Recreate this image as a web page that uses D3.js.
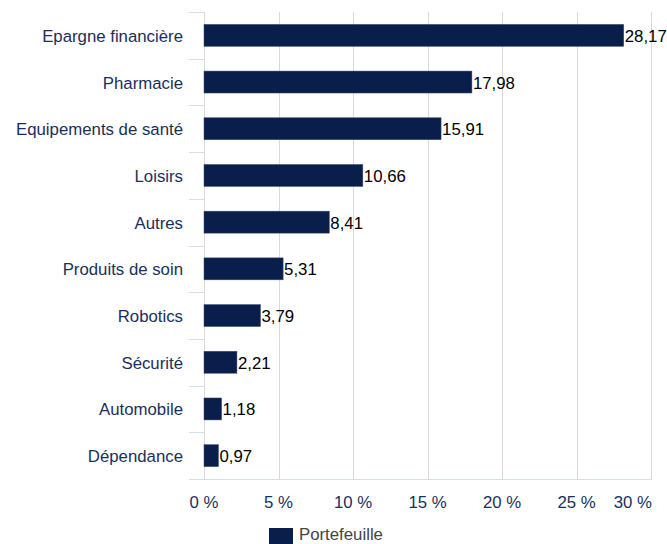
<!DOCTYPE html>
<html><head><meta charset="utf-8">
<script src="https://cdn.jsdelivr.net/npm/d3@7"></script>
<style>body{margin:0;background:#fff}svg{display:block}text{font-family:"Liberation Sans",Arial,sans-serif}</style>
</head><body>
<svg id="c" width="667" height="544"></svg>
<script>
const categories = ["Epargne financière","Pharmacie","Equipements de santé","Loisirs","Autres","Produits de soin","Robotics","Sécurité","Automobile","Dépendance"];
const values = [28.17,17.98,15.91,10.66,8.41,5.31,3.79,2.21,1.18,0.97];
const ticks = [0,5,10,15,20,25,30];
const seriesName = "Portefeuille";

const svg = d3.select("#c");
const m = {l:204, r:16, t:12, b:65};
const W = 667, H = 544;
const FS = 16.8;
const x = d3.scaleLinear().domain([0,30]).range([m.l, W - m.r]);
const y = d3.scaleBand().domain(categories).range([m.t, H - m.b]).paddingInner(0.53).paddingOuter(0.265);
const yb = d3.scaleBand().domain(categories).range([m.t, H - m.b]);

// gridlines
svg.append("g").selectAll("line").data(ticks.slice(1)).join("line")
  .attr("x1", d=>Math.round(x(d))+0.5).attr("x2", d=>Math.round(x(d))+0.5).attr("y1", m.t).attr("y2", H - m.b)
  .attr("stroke", "#d9d9d9").attr("stroke-width", 1);

// left axis line
svg.append("line").attr("x1", m.l+0.5).attr("x2", m.l+0.5).attr("y1", m.t).attr("y2", H-m.b)
  .attr("stroke", "#d9d9d9");
// category tick marks at band boundaries
const bounds = categories.map(c=>yb(c)).concat([H-m.b]);
svg.append("g").selectAll("line").data(bounds).join("line")
  .attr("x1", m.l-15).attr("x2", m.l).attr("y1", d=>Math.round(d)+0.5).attr("y2", d=>Math.round(d)+0.5)
  .attr("stroke", "#d6dde8");
// bottom axis line
svg.append("line").attr("x1", m.l-15).attr("x2", W-m.r+1).attr("y1", H-m.b+0.5).attr("y2", H-m.b+0.5)
  .attr("stroke", "#d6dde8");

// bars
svg.append("g").selectAll("rect").data(values).join("rect")
  .attr("x", x(0)).attr("y", (d,i)=>y(categories[i]))
  .attr("width", d=>x(d)-x(0)).attr("height", y.bandwidth())
  .attr("fill", "#0a1e4b").attr("stroke","#3a4c72").attr("stroke-width",0.5);

// value labels
svg.append("g").selectAll("text").data(values).join("text")
  .attr("x", d=>x(d)+1).attr("y", (d,i)=>y(categories[i]) + y.bandwidth()/2 + 6.5)
  .attr("font-size", FS).attr("fill", "#000")
  .text(d=>d3.format(".2f")(d).replace(".", ","));

// category labels
svg.append("g").selectAll("text").data(categories).join("text")
  .attr("x", 183).attr("y", d=>yb(d)+yb.bandwidth()/2 + 6.5)
  .attr("text-anchor","end").attr("font-size", FS).attr("fill", "#1a2f5a")
  .text(d=>d);

// x tick labels
svg.append("g").selectAll("text").data(ticks).join("text")
  .attr("x", (d,i)=> i===ticks.length-1 ? x(d)+1 : x(d))
  .attr("y", H - m.b + 29)
  .attr("text-anchor", (d,i)=> i===ticks.length-1 ? "end" : "middle")
  .attr("font-size", FS).attr("fill", "#1a2f5a")
  .text(d=>d + " %");

// legend
svg.append("rect").attr("x", 269).attr("y", 528).attr("width", 24).attr("height", 16).attr("fill", "#0a1e4b");
svg.append("text").attr("x", 299).attr("y", 540).attr("font-size", FS).attr("fill", "#444").text(seriesName);
</script>
</body></html>
